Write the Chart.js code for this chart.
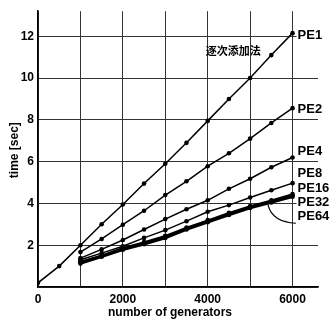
<!DOCTYPE html>
<html>
<head>
<meta charset="utf-8">
<script src="https://cdn.jsdelivr.net/npm/chart.js@4.4.0/dist/chart.umd.min.js"></script>
<style>
  html, body { margin: 0; padding: 0; background: #fff; }
  canvas { display: block; }
</style>
</head>
<body>
<canvas id="myChart" width="333" height="326"></canvas>
<script>
// generators on the x axis
var gensPE1 = [0, 500, 1000, 1500, 2000, 2500, 3000, 3500, 4000, 4500, 5000, 5500, 6000];
var gens = [1000, 1500, 2000, 2500, 3000, 3500, 4000, 4500, 5000, 5500, 6000];

// time [sec] per processor count
var pe1  = [0.2, 1.0, 2.0, 3.0, 3.95, 4.95, 5.9, 6.9, 7.95, 9.0, 10.0, 11.1, 12.15];
var pe2  = [1.67, 2.3, 2.98, 3.65, 4.4, 5.06, 5.78, 6.4, 7.1, 7.85, 8.56];
var pe4  = [1.38, 1.8, 2.25, 2.75, 3.25, 3.72, 4.15, 4.7, 5.18, 5.73, 6.2];
var pe8  = [1.3, 1.62, 1.95, 2.35, 2.72, 3.15, 3.6, 3.92, 4.28, 4.63, 4.97];
var pe16 = [1.22, 1.52, 1.88, 2.15, 2.45, 2.85, 3.2, 3.55, 3.88, 4.15, 4.45];
var pe32 = [1.18, 1.48, 1.82, 2.1, 2.4, 2.8, 3.15, 3.5, 3.82, 4.1, 4.38];
var pe64 = [1.12, 1.45, 1.78, 2.05, 2.35, 2.75, 3.1, 3.45, 3.78, 4.05, 4.32];

var seriesNames = ['PE1', 'PE2', 'PE4', 'PE8', 'PE16', 'PE32', 'PE64'];
var xTicks = [0, 1000, 2000, 3000, 4000, 5000, 6000];
var xTickLabels = ['0', '', '2000', '', '4000', '', '6000'];
var yTicks = [0, 2, 4, 6, 8, 10, 12];
var yTickLabels = ['', '2', '4', '6', '8', '10', '12'];
var methodLabel = '逐次添加法';
var xTitle = 'number of generators';
var yTitle = 'time [sec]';

function pts(xs, ys) {
  return xs.map(function (x, i) { return { x: x, y: ys[i] }; });
}

var allSeries = [pts(gensPE1, pe1), pts(gens, pe2), pts(gens, pe4), pts(gens, pe8),
                 pts(gens, pe16), pts(gens, pe32), pts(gens, pe64)];
var widths = [1.5, 1.5, 1.5, 1.5, 1.6, 2.2, 2.6];

var datasets = allSeries.map(function (d, i) {
  return {
    label: seriesNames[i],
    data: d,
    borderColor: '#000',
    backgroundColor: '#000',
    borderWidth: widths[i],
    pointRadius: 2.3,
    pointBorderWidth: 0,
    tension: 0,
    fill: false
  };
});

var FONT = '"Liberation Sans", Arial, sans-serif';

// where the series names sit (time units), next to the line ends
var labelAt = [12.02, 8.51, 6.49, 5.45, 4.74, 4.03, 3.37];

var annotations = {
  id: 'annotations',
  afterDatasetsDraw: function (chart) {
    var ctx = chart.ctx, xs = chart.scales.x, ys = chart.scales.y;
    ctx.save();
    ctx.fillStyle = '#000';
    ctx.textBaseline = 'middle';
    ctx.font = 'bold 13px ' + FONT;
    var lx = xs.getPixelForValue(6000) + 5;
    seriesNames.forEach(function (n, i) {
      var y = ys.getPixelForValue(labelAt[i]);
      var w = ctx.measureText(n).width;
      ctx.fillStyle = '#fff';
      ctx.fillRect(lx - 1, y - 6, w + 2, 12);
      ctx.fillStyle = '#000';
      ctx.fillText(n, lx, y);
    });

    // pointer from PE64 label to the bottom bundle
    ctx.strokeStyle = '#000';
    ctx.lineWidth = 1.2;
    ctx.beginPath();
    ctx.moveTo(xs.getPixelForValue(5420), ys.getPixelForValue(3.94));
    ctx.quadraticCurveTo(xs.getPixelForValue(5520), ys.getPixelForValue(3.1),
                         xs.getPixelForValue(6080), ys.getPixelForValue(3.05));
    ctx.stroke();

    // method name
    ctx.font = 'bold 11px "Noto Sans CJK JP", sans-serif';
    ctx.textAlign = 'center';
    ctx.fillText(methodLabel, xs.getPixelForValue(4600), ys.getPixelForValue(11.3));

    // axis titles
    ctx.font = 'bold 12px ' + FONT;
    ctx.fillText(xTitle, 170, 313);
    ctx.translate(15, ys.getPixelForValue(6.55));
    ctx.rotate(-Math.PI / 2);
    ctx.fillText(yTitle, 0, 0);
    ctx.restore();
  }
};

var ctx = document.getElementById('myChart').getContext('2d');
var chart = new Chart(ctx, {
  type: 'line',
  data: { datasets: datasets },
  options: {
    responsive: false,
    animation: false,
    devicePixelRatio: 1,
    layout: { padding: { left: 0, right: 15, top: 7, bottom: 0 } },
    plugins: { legend: { display: false }, tooltip: { enabled: false } },
    scales: {
      x: {
        type: 'linear',
        min: 0,
        max: 6600,
        afterBuildTicks: function (s) { s.ticks = xTicks.map(function (v) { return { value: v }; }); },
        afterFit: function (s) { s.height = 39; },
        grid: { color: '#333', lineWidth: 1, drawTicks: false },
        border: { color: '#000', width: 1.5 },
        ticks: {
          color: '#000',
          padding: 5,
          maxRotation: 0,
          autoSkip: false,
          font: { family: FONT, size: 12, weight: 'bold' },
          callback: function (v, i) { return xTickLabels[i]; }
        }
      },
      y: {
        min: 0,
        max: 13.2,
        afterBuildTicks: function (s) { s.ticks = yTicks.map(function (v) { return { value: v }; }); },
        afterFit: function (s) { s.width = 38; },
        grid: { color: '#333', lineWidth: 1, drawTicks: false },
        border: { color: '#000', width: 1.5 },
        ticks: {
          color: '#000',
          padding: 4,
          autoSkip: false,
          font: { family: FONT, size: 12, weight: 'bold' },
          callback: function (v, i) { return yTickLabels[i]; }
        }
      }
    }
  },
  plugins: [annotations]
});
</script>
</body>
</html>
